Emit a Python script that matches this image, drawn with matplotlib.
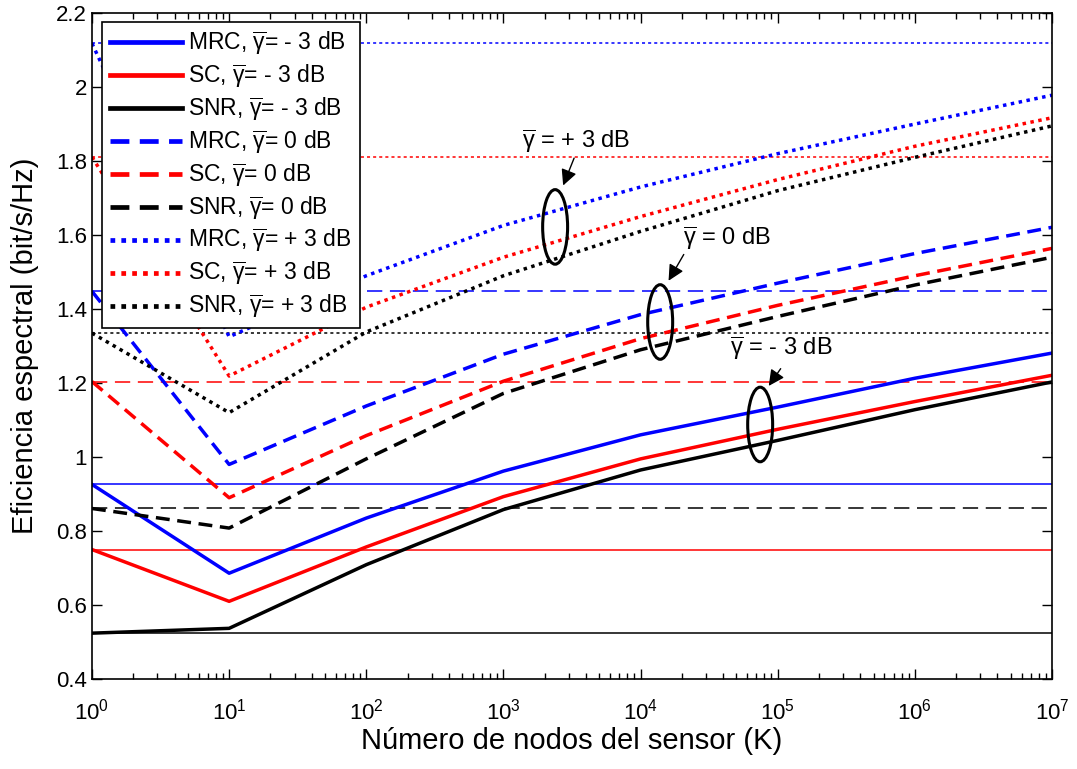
import matplotlib
matplotlib.use("Agg")
import matplotlib.pyplot as plt
from matplotlib.patches import Ellipse
from matplotlib.ticker import FuncFormatter, FixedLocator, NullFormatter

plt.rcParams['font.family'] = ['Liberation Sans', 'DejaVu Sans']
plt.rcParams['mathtext.fontset'] = 'custom'
plt.rcParams['mathtext.rm'] = 'Liberation Sans'
plt.rcParams['mathtext.it'] = 'Liberation Sans:italic'

# data
K = [1, 10, 100, 1e3, 1e4, 1e5, 1e6, 1e7]

mrc_m3 = [0.926, 0.686, 0.835, 0.962, 1.06, 1.135, 1.213, 1.281]
sc_m3 = [0.750, 0.610, 0.757, 0.893, 0.995, 1.075, 1.150, 1.221]
snr_m3 = [0.524, 0.537, 0.709, 0.858, 0.965, 1.045, 1.128, 1.203]

mrc_0 = [1.448, 0.980, 1.138, 1.278, 1.385, 1.470, 1.550, 1.621]
sc_0 = [1.204, 0.890, 1.058, 1.205, 1.320, 1.410, 1.490, 1.564]
snr_0 = [0.861, 0.808, 0.995, 1.172, 1.290, 1.380, 1.465, 1.540]

mrc_p3 = [2.118, 1.325, 1.490, 1.626, 1.730, 1.820, 1.900, 1.978]
sc_p3 = [1.811, 1.219, 1.405, 1.540, 1.650, 1.750, 1.840, 1.917]
snr_p3 = [1.335, 1.120, 1.338, 1.490, 1.610, 1.720, 1.810, 1.895]

x_labels = [r'$10^{%d}$' % i for i in range(8)]

g = r'$\overline{\mathrm{\gamma}}$'
series = [
    (mrc_m3, 'b', '-', 'MRC, ' + g + '= - 3 dB'),
    (sc_m3, 'r', '-', 'SC, ' + g + '= - 3 dB'),
    (snr_m3, 'k', '-', 'SNR, ' + g + '= - 3 dB'),
    (mrc_0, 'b', '--', 'MRC, ' + g + '= 0 dB'),
    (sc_0, 'r', '--', 'SC, ' + g + '= 0 dB'),
    (snr_0, 'k', '--', 'SNR, ' + g + '= 0 dB'),
    (mrc_p3, 'b', ':', 'MRC, ' + g + '= + 3 dB'),
    (sc_p3, 'r', ':', 'SC, ' + g + '= + 3 dB'),
    (snr_p3, 'k', ':', 'SNR, ' + g + '= + 3 dB'),
]

thick_ls = {'-': '-', '--': (0, (4, 2.2)), ':': (0, (1, 1.3))}
thin_ls = {'-': '-', '--': (0, (10, 5)), ':': (0, (2, 2))}

fig = plt.figure(figsize=(10.77, 7.69), dpi=100)
ax = fig.add_axes([0.0854, 0.117, 0.8914, 0.866])

for vals, c, ls, lab in series:
    # thin reference line at the K=1 level
    ax.axhline(vals[0], color=c, lw=1.1, linestyle=thin_ls[ls])
for vals, c, ls, lab in series:
    ax.plot(K, vals, color=c, lw=2.5, linestyle=thick_ls[ls], label=lab)

ax.set_xscale('log')
ax.set_xlim(1, 1e7)
ax.set_ylim(0.4, 2.2)
ax.set_yticks([0.4, 0.6, 0.8, 1.0, 1.2, 1.4, 1.6, 1.8, 2.0, 2.2])
ax.yaxis.set_major_formatter(FuncFormatter(lambda v, p: '%g' % round(v, 2)))
ax.set_xticks(K)
ax.set_xticklabels(x_labels)
minors = [m * 10**e for e in range(7) for m in range(2, 10)]
ax.xaxis.set_minor_locator(FixedLocator(minors))
ax.xaxis.set_minor_formatter(NullFormatter())
ax.tick_params(which='both', direction='in', top=True, right=True, labelsize=16)
ax.tick_params(which='major', length=7, width=1)
ax.tick_params(which='minor', length=4, width=1)
ax.tick_params(axis='x', pad=14)
for s in ax.spines.values():
    s.set_linewidth(1.2)

ax.set_xlabel('Número de nodos del sensor (K)', fontsize=21, labelpad=2)
ax.set_ylabel('Eficiencia espectral (bit/s/Hz)', fontsize=21, labelpad=12)

leg = ax.legend(loc='upper left', bbox_to_anchor=(0.0104, 0.987), borderaxespad=0,
                fontsize=16.5, handlelength=3.15, labelspacing=0.25,
                fancybox=False, framealpha=1, edgecolor='k', borderpad=0.35,
                handletextpad=0.26)
leg.get_frame().set_linewidth(1.2)
for h in leg.get_lines():
    h.set_linewidth(3.4)

# group annotations: label, ellipse centre (K, y), text (K, y), arrow start (K, y), arrow end (K, y)
groups = [
    (g + ' = + 3 dB', 10**3.377, 1.622, 10**3.137, 1.834, 10**3.523, 1.815, 10**3.428, 1.727),
    (g + ' = 0 dB', 10**4.143, 1.365, 10**4.31, 1.573, 10**4.325, 1.554, 10**4.194, 1.47),
    (g + ' = - 3 dB', 10**4.872, 1.088, 10**4.654, 1.275, 10**5.033, 1.245, 10**4.923, 1.186),
]
to_axes = lambda x, y: ax.transAxes.inverted().transform(ax.transData.transform((x, y)))
for lab, ex, ey, tx, ty, ax0, ay0, ax1, ay1 in groups:
    cx, cy = to_axes(ex, ey)
    ax.add_patch(Ellipse((cx, cy), 0.026, 0.112, transform=ax.transAxes,
                         fill=False, ec='k', lw=2.2, zorder=5))
    ax.text(tx, ty, lab, fontsize=17, ha='left', va='baseline', zorder=6)
    ax.annotate('', xy=(ax1, ay1), xytext=(ax0, ay0),
                arrowprops=dict(arrowstyle='-|>', color='k', lw=1.0,
                                mutation_scale=24, fc='k'), zorder=6)

fig.savefig('out.png', dpi=100)
